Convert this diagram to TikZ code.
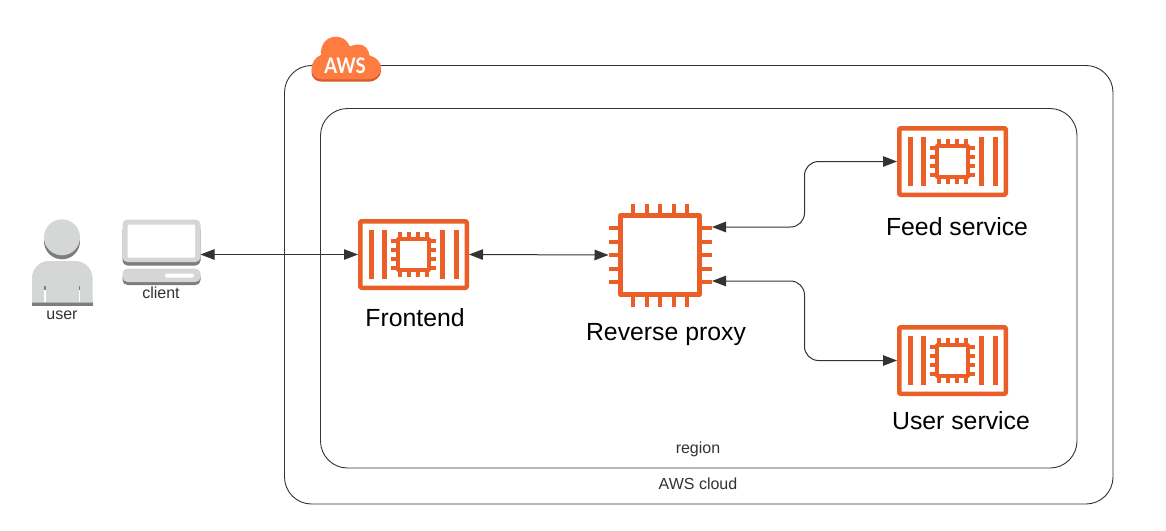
\documentclass[tikz,border=0pt]{standalone}
\usepackage{fontspec}
\setmainfont{Liberation Sans}
\newfontfamily\logofont{Lato}
\usetikzlibrary{arrows.meta,calc,positioning}
\definecolor{awsOrange}{HTML}{E95F27}
\definecolor{awsCloud}{HTML}{FF7C40}
\definecolor{awsCloudDark}{HTML}{D65A2C}
\definecolor{awsInk}{HTML}{333333}
\definecolor{iconGray}{HTML}{D5D7D7}
\definecolor{iconDark}{HTML}{7D7D7D}
\tikzset{
  frame/.style={draw=awsInk,line width=.9pt,rounded corners=27pt},
  link/.style={draw=awsInk,line width=1pt,{Triangle[length=14pt,width=10.5pt]}-{Triangle[length=14pt,width=10.5pt]}},
  bluebox/.style={draw=awsOrange,line width=4.5pt,fill=white,minimum width=106.5pt,minimum height=66.5pt,inner sep=0pt,rounded corners=1pt},
  chipbox/.style={draw=awsOrange,line width=4.5pt,fill=white,minimum width=79pt,minimum height=79pt,inner sep=0pt},
  pin/.style={draw=awsOrange,line width=4pt},
  smallpin/.style={draw=awsOrange,line width=4pt},
  caption/.style={font=\fontsize{16}{18}\selectfont,text=awsInk,inner sep=0pt},
  servicetext/.style={font=\fontsize{24.8}{28}\selectfont,text=black,inner sep=0pt}
}
% container icon: box, two bars on each side, small chip in the middle
\newcommand{\containericon}[3]{
  \node[bluebox] (#1) at (#2,#3) {};
  \foreach \dx in {-42.5,-29,29,42.5} {
    \draw[pin,line width=5pt] ($(#1.center)+(\dx,-24.5)$) -- ($(#1.center)+(\dx,24.5)$);
  }
  \foreach \dd in {-13.5,-4.5,4.5,13.5} {
    \draw[smallpin] ($(#1.center)+(\dd,-22.5)$) -- ($(#1.center)+(\dd,22.5)$);
    \draw[smallpin] ($(#1.center)+(-22.5,\dd)$) -- ($(#1.center)+(22.5,\dd)$);
  }
  \node[draw=awsOrange,fill=white,line width=4pt,minimum size=30.5pt,inner sep=0pt] at (#1.center) {};
}
\begin{document}
\begin{tikzpicture}[x=1pt,y=-1pt,>=Latex,line cap=butt,line join=round]
\path[fill=white] (0,0) rectangle (1166,530);
\useasboundingbox (0,0) rectangle (1166,530);
\draw[frame] (284.5,65.5) rectangle (1113,504);
\draw[frame] (320.5,108.5) rectangle (1077,468);
% aws cloud logo
\path[fill=awsCloudDark] (320,60) .. controls (315,62) and (311.5,67) .. (311.5,72) .. controls (311.5,78) and (316,81.7) .. (322,81.7) -- (368,81.7) .. controls (376,81.7) and (381,76.5) .. (381,71) .. controls (381,65) and (376,60) .. (369,58.5) -- cycle;
\path[fill=awsCloud] (321,55) .. controls (315,57) and (311.5,63) .. (311.5,69) .. controls (311.5,75) and (316,79.3) .. (322,79.3) -- (368,79.3) .. controls (376,79.3) and (381,74) .. (381,68) .. controls (381,62) and (376,57) .. (369.5,55.5) .. controls (369,50) and (365,44.5) .. (359,44.5) .. controls (356,44.5) and (353,45) .. (350,46.5) .. controls (347,40) and (342,36.7) .. (336,36.7) .. controls (327,36.7) and (320,44) .. (321,55) -- cycle;
\node[font=\logofont\bfseries\fontsize{21.5}{24}\selectfont,text=white,inner sep=0pt,xscale=.86] (awslogo) at (345,65.7) {AWS};
% user
\fill[iconDark] (32,302) rectangle (92.5,306);
\fill[iconDark] (62,241.3) ellipse (18 and 18);
\fill[iconGray] (62,237.3) ellipse (18 and 18);
\fill[iconGray] (32,302.5) [rounded corners=17pt] -- (32,261) -- (92.5,261) [sharp corners] -- (92.5,302.5) -- cycle;
\foreach \sx in {45,79.5} {
  \fill[iconDark] (\sx-.8,286) rectangle (\sx+.8,290);
  \fill[white] (\sx-.8,290) rectangle (\sx+.8,302);
}
% client
\fill[iconDark,rounded corners=5pt] (122.5,225) rectangle (200.5,265.5);
\fill[iconGray,rounded corners=5pt] (122.5,219.5) rectangle (200.5,262);
\node[fill=white,minimum width=67.5pt,minimum height=33pt,inner sep=0pt,rounded corners=1pt,anchor=north west] (screen) at (127.5,224.5) {};
\coordinate (clientport) at (200.5,255);
\fill[iconDark,rounded corners=5pt] (122.5,272) rectangle (200.5,285);
\fill[iconGray,rounded corners=5pt] (122.5,268.5) rectangle (200.5,282);
\fill[white,rounded corners=1.5pt] (165,273.5) rectangle (194,277.5);
\node[caption] (userlabel) at (62,315.5) {user};
\node[caption] (clientlabel) at (161,293) {client};
% services
\containericon{frontend}{413.5}{254.5}
\containericon{feed}{952.5}{161.5}
\containericon{usersvc}{952.5}{360.5}
\node[servicetext] (frontendlabel) at (415,318) {Frontend};
\node[servicetext] (feedlabel) at (957,227) {Feed service};
\node[servicetext] (usersvclabel) at (961,421) {User service};
% reverse proxy
\foreach \dd in {-27,-13.5,0,13.5,27} {
  \draw[pin] (660+\dd,203.5) -- (660+\dd,306.5);
  \draw[pin] (608.5,255+\dd) -- (711.5,255+\dd);
}
\node[chipbox] (proxy) at (660,255) {};
\node[servicetext] (proxylabel) at (666,335) {Reverse proxy};
\coordinate (proxyleft) at (608.5,255);
\coordinate (proxytop) at (712,227);
\coordinate (proxylow) at (712,281);
\coordinate (bendtop) at (804.5,227);
\coordinate (bendlow) at (804.5,281);
% connectors
\draw[link] (frontend.west -| clientport) -- (frontend.west);
\draw[link] (frontend.east) -- (proxyleft);
\draw[link,rounded corners=14pt] (proxytop) -- (bendtop) |- (feed.west);
\draw[link,rounded corners=14pt] (proxylow) -- (bendlow) |- (usersvc.west);
\node[caption] (regionlabel) at (698,449) {region};
\node[caption] (cloudlabel) at (698,484) {AWS cloud};
\end{tikzpicture}
\end{document}
